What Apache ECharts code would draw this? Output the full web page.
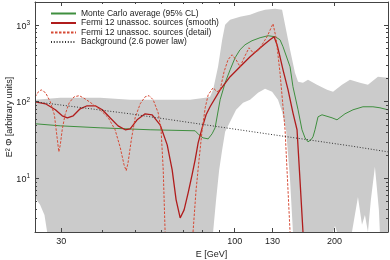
<!DOCTYPE html>
<html><head><meta charset="utf-8">
<script src="https://cdn.jsdelivr.net/npm/echarts@6/dist/echarts.min.js"></script>
<style>html,body{margin:0;padding:0;background:#fff}#c{width:390px;height:260px}</style>
</head><body><div id="c"></div>
<script>
// ---- axis ranges and ticks ----
const xRange = [25, 290];
const yRange = [2, 2000];
const xMajorTicks = [30, 100, 130, 200];
const xMinorTicks = [40, 50, 60, 70, 80, 90];
const yMajorTicks = [10, 100, 1000];
const yMinorTicks = [2, 3, 4, 5, 6, 7, 8, 9, 20, 30, 40, 50, 60, 70, 80, 90, 200, 300, 400, 500, 600, 700, 800, 900, 2000];

// ---- 95% CL band (upper / lower), null = below the plotted range ----
const bandUpperEnergy = [25.05, 29.8, 39.3, 48.4, 59.6, 73.4, 81.5, 84.3, 86.1, 89.1, 91.7, 93.6, 96.9, 103.8, 111.3, 117.6, 123.5, 132.4, 139.0, 141.9, 146.9, 152.0, 155.3, 160.7, 166.4, 177.1, 189.9, 198.0, 210.7, 222.7, 238.7, 252.3, 270.4, 289.8];
const bandUpperFlux = [106, 113, 113, 106, 106, 106, 113, 116, 143, 286, 644, 1011, 1175, 1286, 1365, 1494, 1587, 1635, 1587, 1011, 477, 239, 182, 177, 193, 166, 143, 135, 166, 193, 177, 166, 212, 205];
const bandLowerEnergy = [25.05, 25.9, 26.7, 27.2, 27.4, 86.1, 87.9, 89.8, 91.7, 93.6, 96.9, 101.0, 106.0, 111.3, 117.6, 123.5, 129.7, 135.1, 139.0, 142.9, 146.9, 149.9, 151.0, 198.0, 200.7, 203.5, 204.5, 225.8, 235.4, 242.1, 247.1, 252.3, 257.5, 264.8, 272.2, 274.1];
const bandLowerFlux = [5.57, 4.52, 3.34, 2.0, null, 2.0, 5.25, 12.9, 23.6, 40.5, 54.7, 78.5, 96.9, 106, 131, 148, 135, 106, 73.9, 43.1, 9.58, 2.0, null, 2.0, 2.40, 2.0, null, 2.0, 5.74, 2.48, 3.34, 2.0, 5.25, 14.2, 3.89, 2.0];

// ---- Monte Carlo average ----
const mcEnergy = [25.05, 29.8, 39.3, 55.6, 76.0, 78.1, 80.3, 83.2, 85.5, 87.3, 90.4, 93.6, 96.9, 100.3, 103.8, 107.5, 112.8, 119.3, 126.1, 132.4, 137.0, 139.9, 146.9, 149.9, 155.3, 159.6, 163.0, 166.4, 169.9, 172.3, 174.7, 178.4, 183.4, 196.6, 203.5, 215.1, 227.4, 243.7, 261.2, 274.3, 289.8];
const mcFlux = [51.6, 48.5, 45.7, 43.1, 41.8, 37.0, 33.8, 32.8, 38.2, 45.7, 106, 177, 261, 375, 477, 554, 625, 684, 726, 705, 644, 522, 286, 157, 78.5, 43.1, 33.8, 30.0, 31.9, 34.9, 43.1, 63.6, 67.6, 61.7, 58.1, 69.6, 78.5, 86.0, 86.0, 83.4, 78.5];

// ---- Fermi 12 unassoc. sources (smooth) ----
const smoothEnergy = [25.05, 26.9, 28.8, 30.2, 31.3, 32.6, 34.2, 35.9, 38.0, 39.9, 42.1, 44.5, 46.8, 48.4, 50.8, 53.7, 56.4, 59.6, 62.6, 64.8, 66.6, 68.5, 70.4, 72.4, 74.4, 76.0, 77.6, 79.8, 82.0, 84.3, 90.4, 96.9, 103.8, 111.3, 117.6, 123.5, 127.8, 131.5, 134.2, 137.0, 139.9, 144.9, 149.9, 154.2, 157.4, 160.7, 161.9];
const smoothFlux = [99.9, 94.0, 78.5, 65.6, 61.7, 65.6, 80.9, 88.6, 88.6, 78.5, 61.7, 48.5, 43.1, 44.4, 58.1, 69.6, 67.6, 50.0, 27.4, 12.9, 5.25, 3.05, 3.89, 6.48, 11.1, 17.5, 29.1, 45.7, 67.6, 86.0, 143, 212, 286, 386, 477, 571, 644, 705, 554, 386, 261, 143, 71.7, 43.1, 9.58, 2.0, 1.8];

// ---- Fermi 12 unassoc. sources (detail) ----
const detailEnergy = [25.05, 25.6, 26.1, 26.9, 27.8, 28.6, 29.2, 29.5, 29.8, 30.2, 30.8, 31.7, 32.8, 34.0, 35.4, 37.2, 39.3, 41.6, 43.6, 45.2, 46.4, 47.1, 47.7, 48.8, 50.1, 51.9, 53.7, 55.2, 56.8, 58.8, 60.0, 60.9, 61.7, 62.1, 74.4, 74.9, 76.5, 78.1, 79.8, 81.5, 83.2, 86.1, 88.5, 90.4, 92.9, 95.5, 98.2, 101.0, 103.8, 107.5, 110.5, 113.6, 117.6, 120.9, 125.2, 130.5, 133.3, 137.0, 141.9, 146.9, 147.9];
const detailFlux = [116, 135, 143, 131, 99.9, 67.6, 31.9, 22.2, 27.4, 43.1, 67.6, 96.9, 116, 120, 109, 94.0, 78.5, 61.7, 43.1, 25.1, 15.0, 12.6, 16.0, 31.9, 61.7, 94.0, 116, 120, 106, 71.7, 43.1, 12.9, 2.0, null, null, 2.0, 7.09, 17.5, 43.1, 83.4, 123, 152, 135, 143, 246, 353, 410, 353, 286, 398, 506, 436, 463, 554, 705, 1042, 684, 239, 43.1, 2.0, null];

// ---- Background (2.6 power law) ----
const bgEnergy = [25.05, 48.4, 119.3, 222.7, 289.8];
const bgFlux = [99.9, 69.6, 39.3, 26.6, 22.2];

const L = Math.log10;
function pts(E, F) { return E.map((e, i) => F[i] == null ? [L(e), '-'] : [L(e), L(F[i])]); }

const FONT = 'Liberation Sans';
const AX = '#444';
const TXT = '#222';

function xAxisDef(pos, ticks, len, withLine, withLabel) {
  const a = {
    type: 'value', position: pos, min: L(xRange[0]), max: L(xRange[1]), z: 10,
    axisLine: { show: withLine, lineStyle: { color: AX, width: 1 } },
    axisTick: { show: true, inside: true, length: len, customValues: ticks.map(L), lineStyle: { color: AX, width: 1 } },
    axisLabel: { show: false },
    splitLine: { show: false }
  };
  if (withLabel) {
    a.axisLabel = { show: true, customValues: ticks.map(L), margin: 5, color: TXT, fontSize: 9, fontFamily: FONT,
      formatter: v => String(Math.round(Math.pow(10, v))) };
    a.name = 'E [GeV]'; a.nameLocation = 'middle'; a.nameGap = 18; a.nameMoveOverlap = false;
    a.nameTextStyle = { color: TXT, fontSize: 9, fontFamily: FONT };
  }
  return a;
}
function yAxisDef(pos, ticks, len, withLine, withLabel) {
  const a = {
    type: 'value', position: pos, min: L(yRange[0]), max: L(yRange[1]), z: 10,
    axisLine: { show: withLine, lineStyle: { color: AX, width: 1 } },
    axisTick: { show: true, inside: true, length: len, customValues: ticks.map(L), lineStyle: { color: AX, width: 1 } },
    axisLabel: { show: false },
    splitLine: { show: false }
  };
  if (withLabel) {
    a.axisLabel = { show: true, customValues: ticks.map(L), margin: 5, color: TXT, fontFamily: FONT,
      formatter: v => '{b|10}{s|' + Math.round(v) + '}',
      rich: {
        b: { fontSize: 9, fontFamily: FONT, color: TXT, lineHeight: 11, verticalAlign: 'bottom' },
        s: { fontSize: 6.5, fontFamily: FONT, color: TXT, lineHeight: 11, verticalAlign: 'top' }
      } };
    a.name = 'E\u00B2 \u03A6 [arbitrary units]'; a.nameLocation = 'middle'; a.nameGap = 21; a.nameRotate = 90;
    a.nameMoveOverlap = false;
    a.nameTextStyle = { color: TXT, fontSize: 9, fontFamily: FONT };
  }
  return a;
}

const chart = echarts.init(document.getElementById('c'), null, { renderer: 'canvas' });
chart.setOption({
  animation: false,
  backgroundColor: '#fff',
  grid: { left: 35, right: 2, top: 2, bottom: 28, containLabel: false, outerBoundsMode: 'none' },
  legend: {
    data: ['Monte Carlo average (95% CL)', 'Fermi 12 unassoc. sources (smooth)', 'Fermi 12 unassoc. sources (detail)', 'Background (2.6 power law)'],
    orient: 'vertical', left: 45, top: 4, itemWidth: 25, itemHeight: 9, itemGap: 0.5, selectedMode: false,
    itemStyle: { color: 'rgba(0,0,0,0)', borderWidth: 0, opacity: 0 },
    textStyle: { fontSize: 8.5, fontFamily: FONT, color: TXT, lineHeight: 9 }
  },
  xAxis: [
    xAxisDef('bottom', xMajorTicks, 4, true, true),
    xAxisDef('bottom', xMinorTicks, 2, false, false),
    xAxisDef('top', xMajorTicks, 4, true, false),
    xAxisDef('top', xMinorTicks, 2, false, false)
  ],
  yAxis: [
    yAxisDef('left', yMajorTicks, 4, true, true),
    yAxisDef('left', yMinorTicks, 2, false, false),
    yAxisDef('right', yMajorTicks, 4, true, false),
    yAxisDef('right', yMinorTicks, 2, false, false)
  ],
  series: [
    { name: 'band-upper', type: 'line', data: pts(bandUpperEnergy, bandUpperFlux), symbol: 'none', z: 1, silent: true, clip: true,
      lineStyle: { width: 0 }, areaStyle: { color: '#cbcbcb', opacity: 1, origin: 'start' } },
    { name: 'band-lower', type: 'line', data: pts(bandLowerEnergy, bandLowerFlux), symbol: 'none', z: 2, silent: true, clip: true,
      lineStyle: { width: 0 }, areaStyle: { color: '#ffffff', opacity: 1, origin: 'start' } },
    { name: 'Monte Carlo average (95% CL)', type: 'line', data: pts(mcEnergy, mcFlux), symbol: 'none', z: 3, clip: true,
      color: '#3f8f3f', lineStyle: { color: '#3f8f3f', width: 1 } },
    { name: 'Fermi 12 unassoc. sources (smooth)', type: 'line', data: pts(smoothEnergy, smoothFlux), symbol: 'none', z: 4, clip: true,
      color: '#b01c1c', lineStyle: { color: '#b01c1c', width: 1.3 } },
    { name: 'Fermi 12 unassoc. sources (detail)', type: 'line', data: pts(detailEnergy, detailFlux), symbol: 'none', z: 5, clip: true,
      color: '#d64a35', lineStyle: { color: '#d64a35', width: 1, type: [2.5, 1.5] } },
    { name: 'Background (2.6 power law)', type: 'line', data: pts(bgEnergy, bgFlux), symbol: 'none', z: 6, clip: true,
      color: '#333', lineStyle: { color: '#333', width: 1, type: [1, 1.8] } }
  ]
});
</script></body></html>
